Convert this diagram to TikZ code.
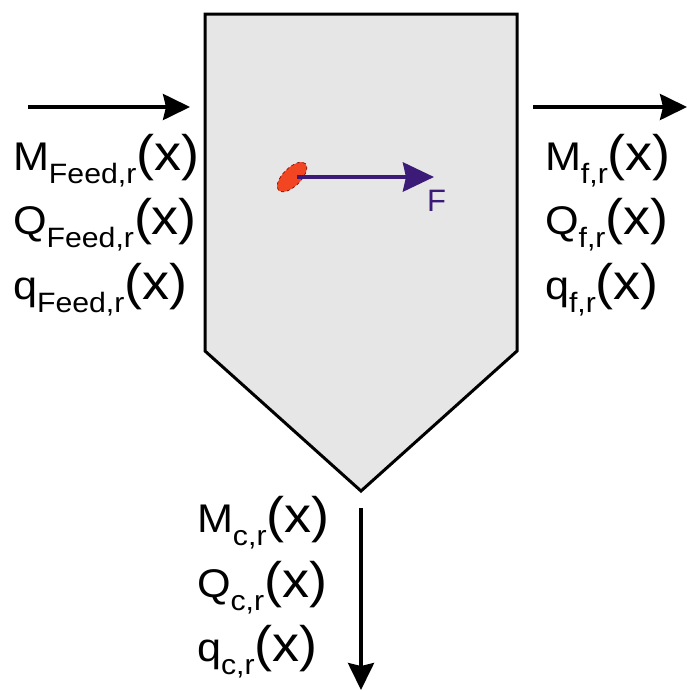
\documentclass[tikz,border=0pt]{standalone}
\usepackage{fontspec}
\setmainfont{Liberation Sans}
\usetikzlibrary{arrows.meta,shapes.geometric}
\definecolor{vesselgray}{HTML}{E6E6E6}
\definecolor{fpurple}{HTML}{3C1A78}
\definecolor{partred}{HTML}{F24522}
\newcommand{\flowlabel}[2]{\scalebox{1.08}[1]{{\fontsize{40}{48}\selectfont #1}\raisebox{-13pt}{\fontsize{28}{32}\selectfont #2}{\fontsize{50}{58}\selectfont(x)}}}
\begin{document}
\begin{tikzpicture}[x=1pt,y=-1pt,
  vessel/.style={draw=black,line width=3pt,fill=vesselgray,line join=miter},
  flowarrow/.style={line width=3.5pt,-{Stealth[length=27pt,width=26pt,inset=3pt]}},
  forcearrow/.style={draw=fpurple,line width=4.5pt,-{Stealth[length=31pt,width=29pt,inset=3pt]}},
  lbl/.style={anchor=base west,inner sep=0pt,outer sep=0pt}]
\useasboundingbox[fill=white] (0,0) rectangle (687,691);
% vessel
\coordinate (tl) at (205,14);
\coordinate (tr) at (517,14);
\coordinate (br) at (517,351);
\coordinate (bot) at (361,491);
\coordinate (bl) at (205,351);
\draw[vessel] (tl) -- (tr) -- (br) -- (bot) -- (bl) -- cycle;
% flow arrows
\coordinate (inA) at (28,107);
\coordinate (inB) at (190,107);
\coordinate (outA) at (533,107);
\coordinate (outB) at (687,107);
\coordinate (dnA) at (361,508);
\coordinate (dnB) at (361,690);
\draw[flowarrow] (inA) -- (inB);
\draw[flowarrow] (outA) -- (outB);
\draw[flowarrow] (dnA) -- (dnB);
% particle and force
\node[draw=black!60!red,dashed,line width=0.6pt,fill=partred,ellipse,minimum width=38pt,minimum height=18pt,inner sep=0pt,rotate=45] (particle) at (292,177) {};
\coordinate (fstart) at (297,177);
\coordinate (fend) at (434,177);
\draw[forcearrow] (fstart) -- (fend);
\node[lbl,text=fpurple,font=\fontsize{31}{36}\selectfont] (F) at (427,211) {F};
% feed labels
\node[lbl] (mfeed) at (13,170) {\flowlabel{M}{Feed,r}};
\node[lbl] (Qfeed) at (13,234) {\flowlabel{Q}{Feed,r}};
\node[lbl] (qfeed) at (13,299) {\flowlabel{q}{Feed,r}};
% fine labels
\node[lbl] (mf) at (545,170) {\flowlabel{M}{f,r}};
\node[lbl] (Qf) at (545,234) {\flowlabel{Q}{f,r}};
\node[lbl] (qf) at (545,299) {\flowlabel{q}{f,r}};
% coarse labels
\node[lbl] (mc) at (197,532) {\flowlabel{M}{c,r}};
\node[lbl] (Qc) at (197,597) {\flowlabel{Q}{c,r}};
\node[lbl] (qc) at (197,661) {\flowlabel{q}{c,r}};
\end{tikzpicture}
\end{document}
